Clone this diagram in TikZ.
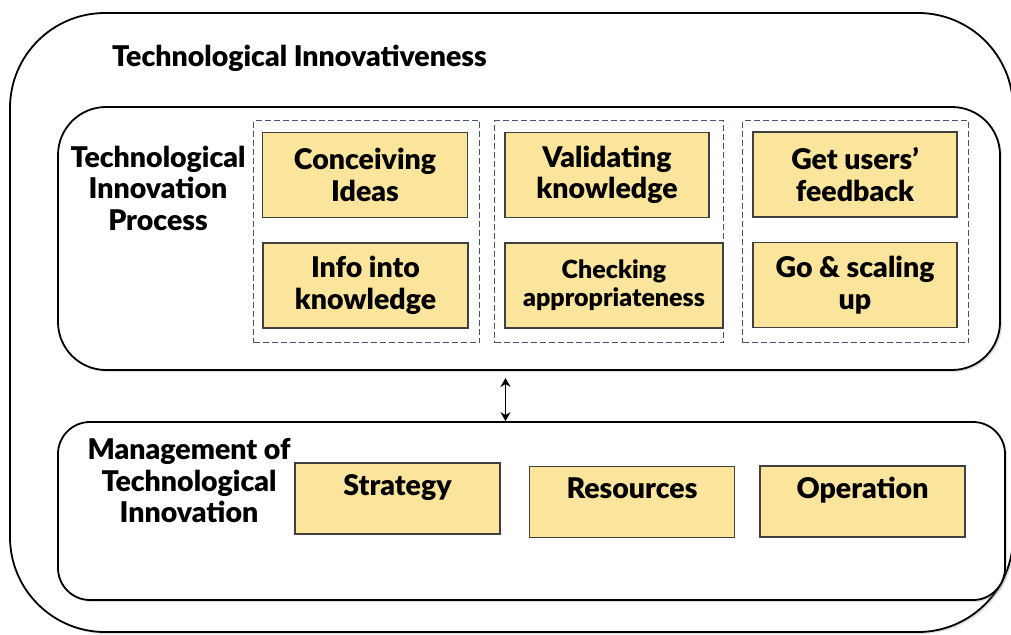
\documentclass[tikz,border=0pt]{standalone}
\usepackage{fontspec}
\setmainfont{Lato}[BoldFont={Lato Black}]
\usetikzlibrary{shadows,arrows.meta}

\definecolor{boxyellow}{RGB}{251,228,155}
\definecolor{dashblue}{RGB}{68,84,120}

\tikzstyle{heading} = [font=\fontsize{28.5}{31.5}\selectfont\bfseries, align=center, inner sep=0pt]
\tikzstyle{frame} = [draw, line width=1.8pt, fill=white, drop shadow={shadow xshift=2pt, shadow yshift=-2pt, opacity=0.25}]
\tikzstyle{group} = [draw=dashblue, line width=1.5pt, dash pattern=on 6pt off 3pt, minimum height=222pt]
\tikzstyle{stage} = [draw=black!75, line width=1.2pt, fill=boxyellow, align=center, inner sep=2pt, font=\fontsize{28.5}{31.5}\selectfont\bfseries]
\tikzstyle{mgmt} = [stage, minimum height=71pt, text height=24pt, text depth=31pt, inner ysep=8pt]
\tikzstyle{arrowdecorate} = [{Stealth[length=9pt,width=10pt,inset=3pt]}-{Stealth[length=9pt,width=10pt,inset=3pt]}, line width=1.5pt]

\begin{document}
\begin{tikzpicture}[x=1pt, y=-1pt]
      \useasboundingbox (0,0) rectangle (1011,634);
      %frames
      \node[frame, rounded corners=95pt, minimum width=1003pt, minimum height=619pt] (outer) at (511.5,322.5) {};
      \node[frame, rounded corners=48pt, minimum width=942pt, minimum height=263pt] (process) at (529,238.5) {};
      \node[frame, rounded corners=32pt, minimum width=947pt, minimum height=178pt] (management) at (531.5,511) {};
      %headings
      \node[heading, anchor=west] (title) at (112,58) {Technological Innovativeness};
      \node[heading] (tiplabel) at (158,188) {Technological\\Innovation\\Process};
      \node[heading] (mtilabel) at (189,481) {Management of\\Technological\\Innovation};
      %dashed groups
      \foreach \groupname/\x/\w in {g1/366.5/226, g2/609/229, g3/855.5/226}
      {
        \node[group, minimum width=\w pt] (\groupname) at (\x,231.5) {};
      };
      %process steps
      \foreach \nodename/\x/\y/\w/\caption in {
        conceiving/365/175/205/Conceiving\\Ideas,
        info/365.5/285.5/205/Info into\\knowledge,
        validating/607/175/204/Validating\\knowledge,
        feedback/855/174.5/204/Get users’\\feedback,
        scaling/855/285/204/Go \& scaling\\up}
      {
        \node[stage, minimum width=\w pt, minimum height=85pt] (\nodename) at (\x,\y) {\caption};
      };
      \node[stage, minimum width=218pt, minimum height=85pt, font=\fontsize{25}{28}\selectfont\bfseries] (checking) at (614,285.5) {Checking\\appropriateness};
      %management parts
      \foreach \nodename/\x/\y/\caption in {
        strategy/397.5/498.5/Strategy,
        resources/632/502/Resources,
        operation/862.5/501.5/Operation}
      {
        \node[mgmt, minimum width=205pt] (\nodename) at (\x,\y) {\caption};
      };
      %link
      \coordinate (arrtop) at (505.5,378);
      \draw[arrowdecorate] (arrtop) -- (arrtop |- management.north);
\end{tikzpicture}
\end{document}
